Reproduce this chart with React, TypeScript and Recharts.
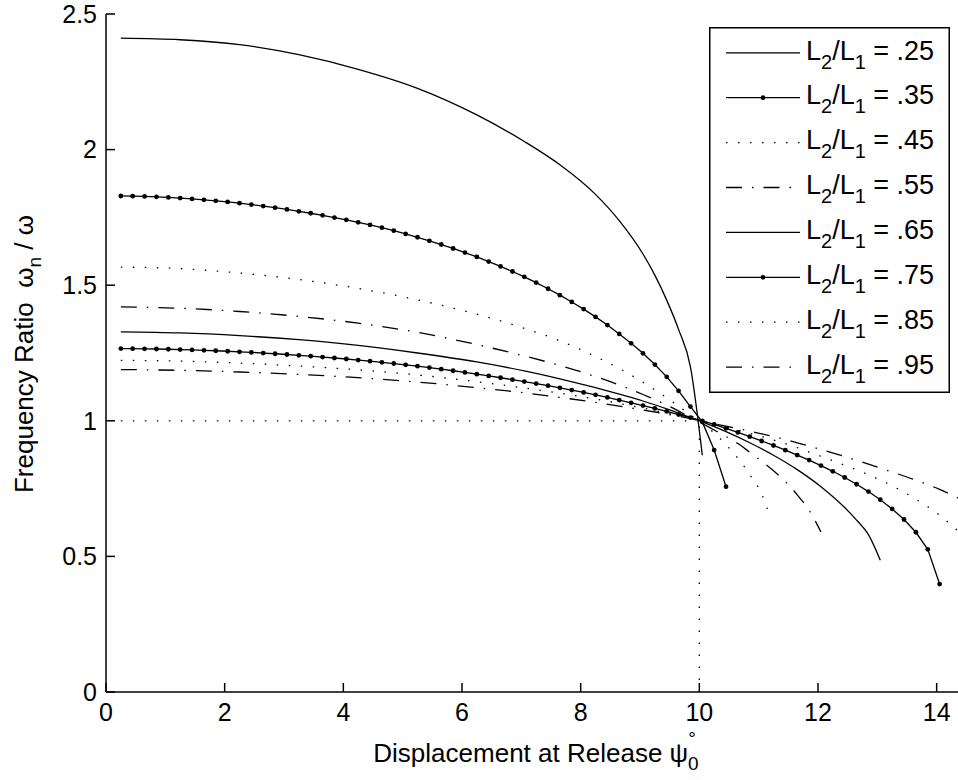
import { LineChart, Line, XAxis, YAxis, Legend } from 'recharts'

const FONT = '"Liberation Sans", Arial, Helvetica, sans-serif'

const X_TICKS = [0, 2, 4, 6, 8, 10, 12, 14]
const Y_TICKS = [0, 0.5, 1, 1.5, 2, 2.5]

// release angles (deg) of the marked runs, 0.2 deg apart
const PSI_MARK = [
  0.25, 0.45, 0.65, 0.85, 1.05, 1.25, 1.45, 1.65, 1.85, 2.05,
  2.25, 2.45, 2.65, 2.85, 3.05, 3.25, 3.45, 3.65, 3.85, 4.05,
  4.25, 4.45, 4.65, 4.85, 5.05, 5.25, 5.45, 5.65, 5.85, 6.05,
  6.25, 6.45, 6.65, 6.85, 7.05, 7.25, 7.45, 7.65, 7.85, 8.05,
  8.25, 8.45, 8.65, 8.85, 9.05, 9.25, 9.45, 9.65, 9.85, 10.05,
  10.25, 10.45, 10.65, 10.85, 11.05, 11.25, 11.45, 11.65, 11.85, 12.05,
  12.25, 12.45, 12.65, 12.85, 13.05, 13.25, 13.45, 13.65, 13.85, 14.05,
]

const R35 = [
  1.829, 1.8283, 1.8272, 1.8257, 1.8237, 1.8212, 1.8183, 1.8149, 1.8111, 1.8069,
  1.8023, 1.7972, 1.7916, 1.7857, 1.7793, 1.7725, 1.7653, 1.7576, 1.7495, 1.741,
  1.732, 1.7224, 1.7121, 1.7012, 1.6892, 1.6768, 1.6638, 1.65, 1.6354, 1.6202,
  1.6041, 1.587, 1.5693, 1.5506, 1.5307, 1.5095, 1.487, 1.4633, 1.4382, 1.4118,
  1.3832, 1.353, 1.3203, 1.2857, 1.2487, 1.2073, 1.162, 1.1105, 1.0525, 0.996,
  0.892, 0.757,
]

const R75 = [
  1.2665, 1.266, 1.2655, 1.2648, 1.2639, 1.2628, 1.2615, 1.26, 1.2583, 1.2565,
  1.2545, 1.2523, 1.2499, 1.2473, 1.2445, 1.2415, 1.2384, 1.2351, 1.2316, 1.2279,
  1.224, 1.2199, 1.2157, 1.2112, 1.2063, 1.2013, 1.1961, 1.1905, 1.1846, 1.1784,
  1.172, 1.1655, 1.1588, 1.1518, 1.1446, 1.1372, 1.1296, 1.1216, 1.1132, 1.1046,
  1.0957, 1.0862, 1.0764, 1.0664, 1.0562, 1.0455, 1.0345, 1.0232, 1.0118, 0.9998,
  0.987, 0.9723, 0.9572, 0.9413, 0.9256, 0.909, 0.8917, 0.8738, 0.855, 0.835,
  0.8138, 0.791, 0.766, 0.739, 0.709, 0.675, 0.636, 0.589, 0.526, 0.398,
]

const PSI_25 = [0.25, 1.25, 2.25, 3.25, 4.25, 5.25, 6.25, 7.05, 7.65, 8.25, 8.65, 9.05, 9.25, 9.45, 9.65, 9.85, 10.05]
const R25 = [2.411, 2.405, 2.387, 2.35, 2.296, 2.226, 2.128, 2.03, 1.944, 1.835, 1.738, 1.615, 1.537, 1.445, 1.337, 1.199, 0.873]

const PSI_45 = [0.25, 1.25, 2.25, 3.25, 4.25, 5.25, 6.25, 7.05, 7.65, 8.25, 8.65, 9.05, 9.45, 9.85, 10.05, 10.25, 10.45, 10.65, 10.85, 11.05, 11.2]
const R45 = [1.567, 1.561, 1.545, 1.521, 1.488, 1.446, 1.393, 1.341, 1.295, 1.237, 1.193, 1.142, 1.085, 1.022, 0.99, 0.955, 0.912, 0.862, 0.802, 0.73, 0.64]

const PSI_55 = [0.25, 1.25, 2.25, 3.25, 4.25, 5.25, 6.25, 7.05, 7.65, 8.25, 8.65, 9.05, 9.45, 9.85, 10.05, 10.25, 10.45, 10.65, 10.85, 11.05, 11.25, 11.45, 11.65, 11.85, 12.05]
const R55 = [1.42, 1.415, 1.403, 1.385, 1.36, 1.326, 1.281, 1.239, 1.204, 1.163, 1.132, 1.097, 1.058, 1.013, 0.99, 0.966, 0.942, 0.916, 0.884, 0.851, 0.816, 0.776, 0.727, 0.67, 0.59]

const PSI_65 = [0.25, 1.25, 2.25, 3.25, 4.25, 5.25, 6.25, 7.05, 7.65, 8.25, 8.65, 9.05, 9.45, 9.85, 10.05, 10.45, 10.85, 11.25, 11.65, 12.05, 12.45, 12.65, 12.85, 13.05]
const R65 = [1.328, 1.324, 1.314, 1.299, 1.278, 1.25, 1.217, 1.184, 1.155, 1.122, 1.098, 1.073, 1.044, 1.012, 0.996, 0.96, 0.919, 0.873, 0.82, 0.757, 0.68, 0.634, 0.58, 0.486]

const PSI_85 = [0.25, 1.25, 2.25, 3.25, 4.25, 5.25, 6.25, 7.05, 7.65, 8.25, 8.65, 9.05, 9.45, 9.85, 10.05, 10.45, 10.85, 11.25, 11.65, 12.05, 12.45, 12.85, 13.25, 13.65, 14.05, 14.45]
const R85 = [1.223, 1.22, 1.213, 1.202, 1.188, 1.169, 1.144, 1.121, 1.102, 1.08, 1.064, 1.047, 1.029, 1.01, 0.997, 0.977, 0.954, 0.929, 0.901, 0.869, 0.836, 0.801, 0.76, 0.711, 0.652, 0.575]

const PSI_95 = PSI_85
const R95 = [1.189, 1.186, 1.18, 1.171, 1.159, 1.143, 1.122, 1.103, 1.086, 1.068, 1.054, 1.04, 1.025, 1.008, 0.998, 0.98, 0.962, 0.942, 0.919, 0.894, 0.868, 0.84, 0.811, 0.781, 0.747, 0.706]

// dotted guides: ratio 1 up to 10 deg, and the 10 deg drop line
const GUIDE_H_X = [0.25, 10]
const GUIDE_V_Y = [0, 1]

const DOTTED = '1.5 10.5'
const DASH_DOT = '16 10 1.5 10'

interface Series {
  label: string
  xs: number[]
  ys: number[]
  dash?: string
  marker: boolean
}

const SERIES: Series[] = [
  { label: '.25', xs: PSI_25, ys: R25, marker: false },
  { label: '.35', xs: PSI_MARK, ys: R35, marker: true },
  { label: '.45', xs: PSI_45, ys: R45, dash: DOTTED, marker: false },
  { label: '.55', xs: PSI_55, ys: R55, dash: DASH_DOT, marker: false },
  { label: '.65', xs: PSI_65, ys: R65, marker: false },
  { label: '.75', xs: PSI_MARK, ys: R75, marker: true },
  { label: '.85', xs: PSI_85, ys: R85, dash: DOTTED, marker: false },
  { label: '.95', xs: PSI_95, ys: R95, dash: DASH_DOT, marker: false },
]

function toPoints(xs: number[], ys: number[]) {
  return ys.map((y, i) => ({ x: xs[i], y }))
}

function LegendBox() {
  return (
    <svg width={241} height={366} style={{ display: 'block' }}>
      <rect x={0.75} y={0.75} width={239.5} height={364.5} fill="#fff" stroke="#000" strokeWidth={1.5} />
      {SERIES.map((s, i) => {
        const cy = 25.8 + i * 44.9
        return (
          <g key={s.label}>
            <line x1={17} x2={91} y1={cy} y2={cy} stroke="#000" strokeWidth={1.3} strokeDasharray={s.dash} />
            {s.marker && <circle cx={54} cy={cy} r={2.4} fill="#000" />}
            <text x={97} y={cy + 6.7} fontSize={27} fill="#000">
              L<tspan fontSize={20} dy={9}>2</tspan>
              <tspan dy={-9}>/L</tspan>
              <tspan fontSize={20} dy={9}>1</tspan>
              <tspan dy={-9}>{` = ${s.label}`}</tspan>
            </text>
          </g>
        )
      })}
    </svg>
  )
}

function XTitle() {
  return (
    <text x={536} y={762} textAnchor="middle" fontSize={26} fill="#000">
      Displacement at Release ψ
      <tspan fontSize={19} dy={8}>0</tspan>
      <tspan fontSize={19} dx={-10.5} dy={-25}>°</tspan>
    </text>
  )
}

function YTitle() {
  return (
    <text transform="translate(33,354) rotate(-90)" textAnchor="middle" fontSize={26} fill="#000">
      {'Frequency Ratio\u00a0\u00a0ω'}
      <tspan fontSize={19} dy={8}>n</tspan>
      <tspan dy={-8}>{'\u00a0/\u00a0ω'}</tspan>
    </text>
  )
}

export default function App() {
  const axisLine = { stroke: '#000', strokeWidth: 1.5 }
  const tickStyle = { fill: '#000', fontSize: 25, fontFamily: FONT }
  return (
    <div
      style={{
        position: 'fixed',
        left: 0,
        top: 0,
        width: 958,
        height: 780,
        overflow: 'hidden',
        background: '#fff',
        fontFamily: FONT,
      }}
    >
      <LineChart width={1010} height={780} margin={{ top: 14, right: 14, bottom: 0, left: 0 }}>
        <XAxis
          type="number"
          dataKey="x"
          domain={[0, 15]}
          ticks={X_TICKS}
          height={88}
          tickSize={-9}
          tickMargin={20}
          axisLine={axisLine}
          tickLine={axisLine}
          tick={tickStyle}
          label={<XTitle />}
          allowDataOverflow
        />
        <XAxis
          xAxisId="top"
          orientation="top"
          type="number"
          dataKey="x"
          domain={[0, 15]}
          ticks={X_TICKS}
          height={0}
          tickSize={-9}
          axisLine={axisLine}
          tickLine={axisLine}
          tickFormatter={() => ''}
          allowDataOverflow
        />
        <YAxis
          type="number"
          domain={[0, 2.5]}
          ticks={Y_TICKS}
          width={106}
          tickSize={-9}
          tickMargin={18}
          axisLine={axisLine}
          tickLine={axisLine}
          tick={tickStyle}
          label={<YTitle />}
          allowDataOverflow
        />
        <Legend
          layout="vertical"
          align="center"
          verticalAlign="middle"
          wrapperStyle={{ left: 709, top: 27, width: 241, height: 366 }}
          content={() => <LegendBox />}
        />
        <Line
          data={GUIDE_H_X.map((x) => ({ x, y: 1 }))}
          dataKey="y"
          type="linear"
          stroke="#000"
          strokeWidth={1.3}
          strokeDasharray={DOTTED}
          dot={false}
          activeDot={false}
          isAnimationActive={false}
          legendType="none"
        />
        <Line
          data={GUIDE_V_Y.map((y) => ({ x: 10, y }))}
          dataKey="y"
          type="linear"
          stroke="#000"
          strokeWidth={1.3}
          strokeDasharray={DOTTED}
          dot={false}
          activeDot={false}
          isAnimationActive={false}
          legendType="none"
        />
        {SERIES.map((s) => (
          <Line
            key={s.label}
            name={`L2/L1 = ${s.label}`}
            data={toPoints(s.xs, s.ys)}
            dataKey="y"
            type={s.marker ? 'linear' : 'monotone'}
            stroke="#000"
            strokeWidth={1.3}
            strokeDasharray={s.dash}
            dot={s.marker ? { r: 2.4, fill: '#000', stroke: '#000', strokeWidth: 0 } : false}
            activeDot={false}
            isAnimationActive={false}
          />
        ))}
      </LineChart>
    </div>
  )
}
